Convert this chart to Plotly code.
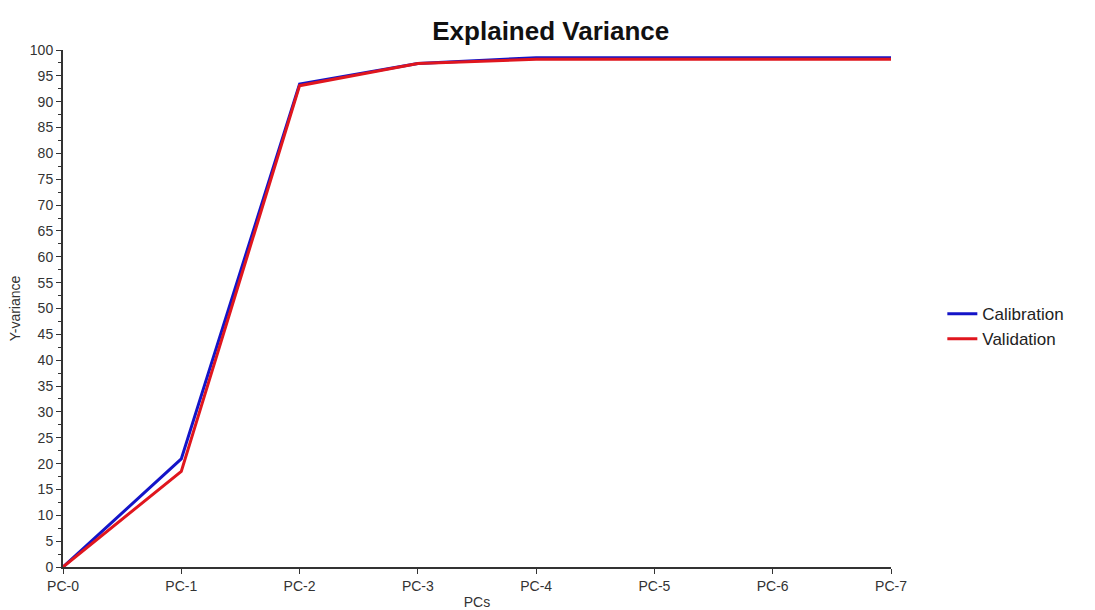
import plotly.graph_objects as go

components = ["PC-0", "PC-1", "PC-2", "PC-3", "PC-4", "PC-5", "PC-6", "PC-7"]
calibration = [0.0, 20.9, 93.4, 97.4, 98.5, 98.5, 98.5, 98.5]
validation = [0.0, 18.5, 93.1, 97.4, 98.2, 98.2, 98.2, 98.2]
y_ticks = list(range(0, 101, 5))

FONT = "Liberation Sans, Arial, sans-serif"

fig = go.Figure()
fig.add_trace(go.Scatter(x=components, y=calibration, mode="lines", name="Calibration",
                         line=dict(color="#1414c8", width=3)))
fig.add_trace(go.Scatter(x=components, y=validation, mode="lines", name="Validation",
                         line=dict(color="#e0161e", width=3)))

fig.update_layout(
    width=1095, height=610,
    margin=dict(l=63, r=204, t=50, b=43, autoexpand=False),
    paper_bgcolor="white", plot_bgcolor="white",
    font=dict(family=FONT, size=14, color="#333333"),
    title=dict(text="<b>Explained Variance</b>", x=0.503, xref="container", xanchor="center",
               y=0.95, yref="container", yanchor="middle",
               font=dict(family=FONT, size=26, color="#111111")),
    legend=dict(x=1.062, y=0.465, xanchor="left", yanchor="middle",
                font=dict(family=FONT, size=17, color="#222222"), tracegroupgap=0),
    showlegend=True,
)
fig.update_xaxes(
    type="category", range=[0, 7], showgrid=False, zeroline=False, automargin=False,
    showline=True, linecolor="#333333", linewidth=2,
    ticks="outside", ticklen=5, tickcolor="#333333",
    tickfont=dict(size=14, color="#333333"),
    title=dict(text="PCs", standoff=4, font=dict(size=14, color="#333333")),
)
fig.update_yaxes(
    range=[0, 100], tickvals=y_ticks, showgrid=False, zeroline=False, automargin=False,
    showline=True, linecolor="#333333", linewidth=2,
    ticks="outside", ticklen=5, tickcolor="#333333",
    minor=dict(dtick=2.5, ticks="outside", ticklen=3, tickcolor="#333333", showgrid=False),
    tickfont=dict(size=14, color="#333333"),
    title=dict(text="Y-variance", standoff=6, font=dict(size=14, color="#333333")),
)

fig.write_html("out.html")
